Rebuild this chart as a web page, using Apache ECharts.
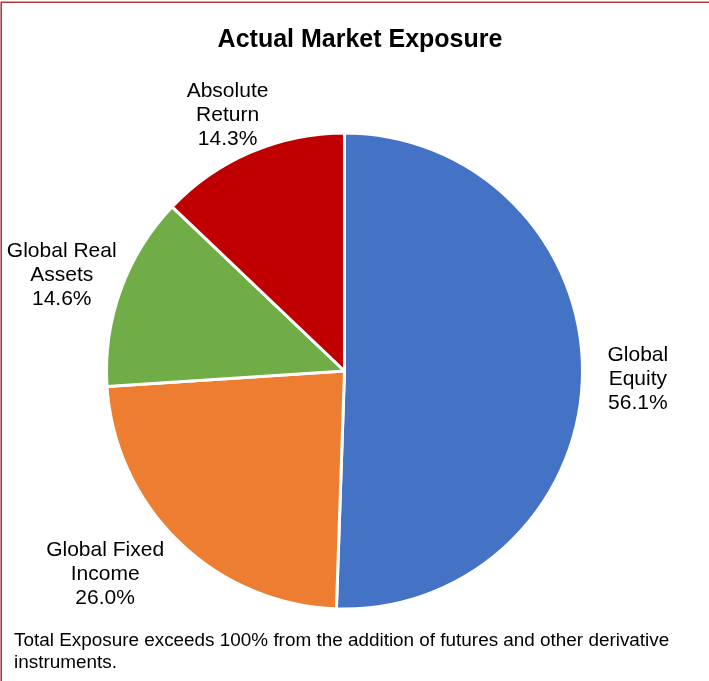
<!DOCTYPE html>
<html>
<head>
<meta charset="utf-8">
<script src="https://cdn.jsdelivr.net/npm/echarts@6/dist/echarts.min.js"></script>
<style>
  html, body { margin: 0; padding: 0; background: #fff; }
  #chart { width: 709px; height: 681px; }
</style>
</head>
<body>
<div id="chart"></div>
<script>
// Exposure by asset class (percent of capital; totals exceed 100%)
const categories = ['Global Equity', 'Global Fixed Income', 'Global Real Assets', 'Absolute Return'];
const labelNames = ['Global\nEquity', 'Global Fixed\nIncome', 'Global Real\nAssets', 'Absolute\nReturn'];
const exposure = [56.1, 26.0, 14.6, 14.3];
const colors = ['#4472C4', '#ED7D31', '#70AD47', '#C00000'];

// label placement per slice: [radial length, horizontal length, vertical nudge]
const labelOffsets = [[10, 10, 3.5], [44.8, -21.4, 0], [41.9, -40.2, 0], [39.8, -38.3, 0]];

const titleText = 'Actual Market Exposure';
const noteText = 'Total Exposure exceeds 100% from the addition of futures and other derivative\ninstruments.';

const FONT = 'Arial, "Liberation Sans", Helvetica, sans-serif';

const pieData = categories.map((name, i) => ({
  name: name,
  value: exposure[i],
  itemStyle: { color: colors[i] },
  labelLine: { show: false, length: labelOffsets[i][0], length2: labelOffsets[i][1] }
}));

const chart = echarts.init(document.getElementById('chart'), null, { renderer: 'canvas' });

chart.setOption({
  animation: false,
  backgroundColor: '#ffffff',
  title: {
    text: titleText,
    left: 355,
    top: 23,
    textAlign: 'center',
    textStyle: { fontFamily: FONT, fontSize: 25, fontWeight: 'bold', color: '#000000' }
  },
  graphic: [
    {
      type: 'rect',
      silent: true,
      shape: { x: 1.2, y: 2.2, width: 760, height: 740 },
      style: { fill: 'none', stroke: '#b43a3e', lineWidth: 1.6 }
    },
    {
      type: 'text',
      silent: true,
      left: 14,
      top: 630,
      style: {
        text: noteText,
        fontFamily: FONT,
        fontSize: 18.9,
        lineHeight: 22,
        fill: '#000000'
      }
    }
  ],
  series: [
    {
      type: 'pie',
      center: [344.5, 371],
      radius: 238,
      startAngle: 90,
      clockwise: true,
      avoidLabelOverlap: false,
      silent: true,
      emphasis: { disabled: true },
      itemStyle: { borderColor: '#ffffff', borderWidth: 3 },
      label: {
        show: true,
        position: 'outside',
        fontFamily: FONT,
        fontSize: 21,
        lineHeight: 24,
        color: '#000000',
        formatter: p => labelNames[p.dataIndex] + '\n' + p.value.toFixed(1) + '%'
      },
      labelLayout: p => {
        const r = p.labelRect;
        return {
          x: r.x + r.width / 2,
          y: r.y + r.height / 2 + labelOffsets[p.dataIndex][2],
          align: 'center',
          verticalAlign: 'middle'
        };
      },
      data: pieData
    }
  ]
});
</script>
</body>
</html>
